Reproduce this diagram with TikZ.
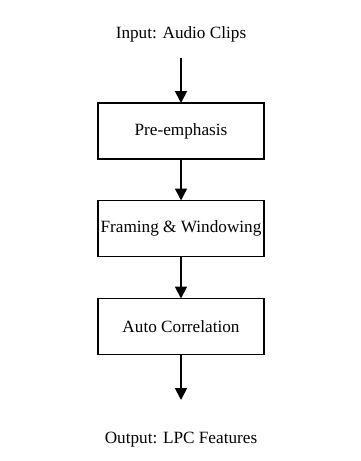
\documentclass[tikz,border=0pt]{standalone}
\usepackage{fontspec}
\setmainfont{Liberation Serif}
\usetikzlibrary{arrows.meta}
\begin{document}
\begin{tikzpicture}[x=1pt,y=-1pt,
  stagebox/.style={draw=black,line width=1.8pt,minimum width=166pt,minimum height=56pt,inner sep=0pt,outer sep=0pt,font=\fontsize{17.2}{20}\selectfont},
  label/.style={inner sep=0pt,outer sep=0pt,font=\fontsize{17.2}{20}\selectfont},
  flow/.style={line width=1.8pt,-{Triangle[length=12pt,width=12pt]}}]
\useasboundingbox (0,0) rectangle (361,461);
\node[label,anchor=base] (in) at (181,38) {Input: Audio Clips};
\node[stagebox] (b1) at (181,131) {Pre-emphasis};
\node[stagebox] (b2) at (181,228.5) {Framing \& Windowing};
\node[stagebox] (b3) at (181,326.5) {Auto Correlation};
\node[label,anchor=base] (out) at (181,443) {Output: LPC Features};
\coordinate (s1) at (181,58);
\coordinate (e4) at (181,400);
\draw[flow] (s1) -- (b1.north);
\draw[flow] (b1.south) -- (b2.north);
\draw[flow] (b2.south) -- (b3.north);
\draw[flow] (b3.south) -- (e4);
\end{tikzpicture}
\end{document}
